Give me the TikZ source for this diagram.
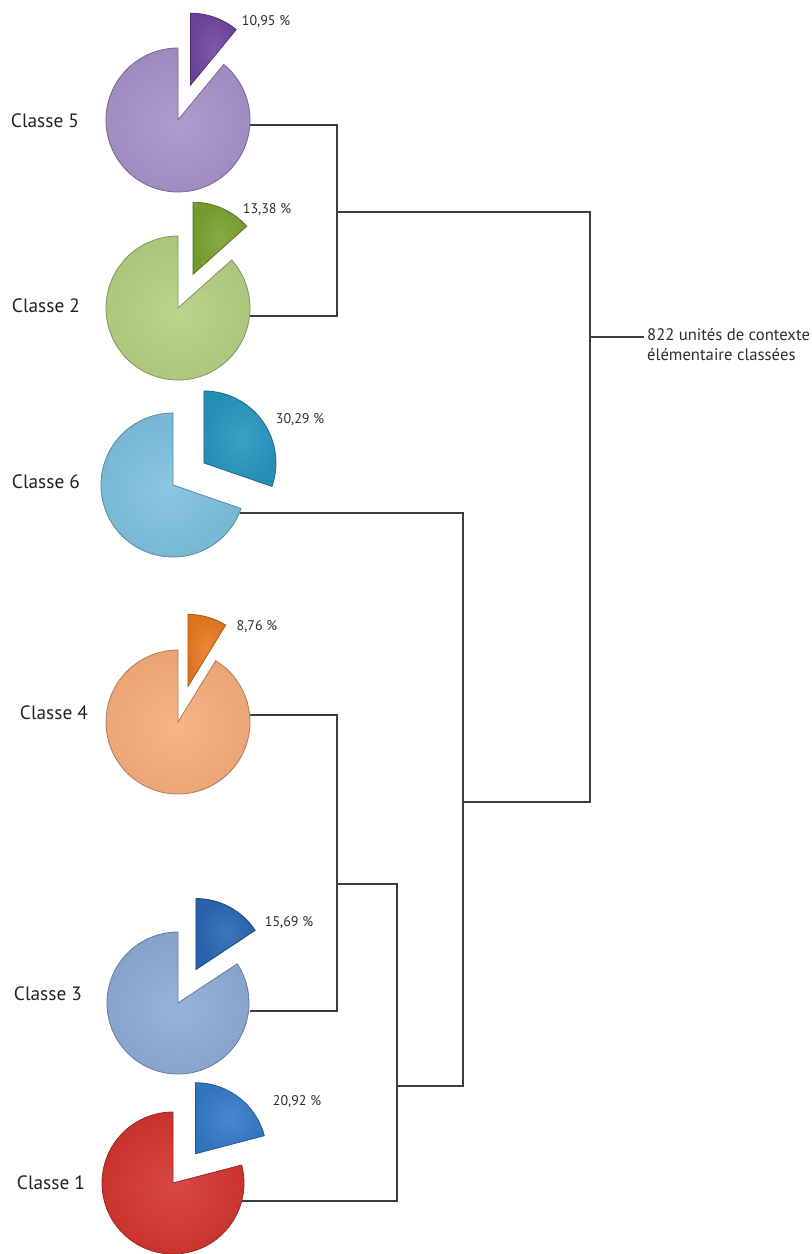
\documentclass[tikz,border=0pt]{standalone}
\usepackage{fontspec}
\setmainfont{PT Sans}

\definecolor{c5main}{RGB}{166,145,200}
\definecolor{c5cut}{RGB}{112,70,160}
\definecolor{c2main}{RGB}{178,208,128}
\definecolor{c2cut}{RGB}{122,162,48}
\definecolor{c6main}{RGB}{124,192,222}
\definecolor{c6cut}{RGB}{38,150,190}
\definecolor{c4main}{RGB}{246,172,122}
\definecolor{c4cut}{RGB}{232,122,32}
\definecolor{c3main}{RGB}{140,170,215}
\definecolor{c3cut}{RGB}{40,102,178}
\definecolor{c1main}{RGB}{212,52,46}
\definecolor{c1cut}{RGB}{52,122,200}

\tikzset{every picture/.style={line width=0.75pt}}
\tikzset{
	sector/.style={draw=#1!72!black, line width=0.6pt, inner color=#1!90!white, outer color=#1!95!black},
	link/.style={draw={rgb, 255:red, 62; green, 62; blue, 62 }, line width=0.9pt},
	classlab/.style={font=\fontsize{14.5}{17}\selectfont, text={rgb, 255:red, 35; green, 35; blue, 35 }},
	pctlab/.style={font=\fontsize{10.5}{12}\selectfont, text={rgb, 255:red, 45; green, 45; blue, 45 }},
	rootlab/.style={font=\fontsize{12.5}{15}\selectfont, align=left, anchor=west, inner sep=2pt, text={rgb, 255:red, 45; green, 45; blue, 45 }}}

\begin{document}
\begin{tikzpicture}[x=0.75pt,y=0.75pt,yscale=-1,xscale=1]
	\useasboundingbox (0,0) rectangle (812,1254);

	% Text Node
	\node [rootlab] (lroot) at (644,345) {822 unités de contexte\\élémentaire classées};

	% Connector ends
	\coordinate (p5) at (250,125);
	\coordinate (p2) at (250,316);
	\coordinate (p6) at (240,513);
	\coordinate (p4) at (250,715);
	\coordinate (p3) at (250,1011);
	\coordinate (p1) at (242,1201);
	\coordinate (k52) at (337,212);
	\coordinate (k43) at (337,884);
	\coordinate (k431) at (397,1086);
	\coordinate (k6) at (463,802);
	\coordinate (root) at (590,337);

	% Connectors
	\draw [link] (p5) -| (k52) |- (p2);
	\draw [link] (p4) -| (k43) |- (p3);
	\draw [link] (k43) -| (k431) |- (p1);
	\draw [link] (p6) -| (k6) |- (k431);
	\draw [link] (k52) -| (root) |- (k6);
	\draw [link] (root) -- (root -| lroot.west);

	%Shape: Sector (Classe 5)
	\draw [sector=c5main] (178,120) -- ++(-50.58:72) arc [start angle=-50.58, end angle=270, radius=72] -- cycle;
	\draw [sector=c5cut, shift={(-70.29:37)}] (178,120) -- ++(-90:72) arc [start angle=-90, end angle=-50.58, radius=72] -- cycle;
	%Shape: Sector (Classe 2)
	\draw [sector=c2main] (178,308) -- ++(-41.83:72) arc [start angle=-41.83, end angle=270, radius=72] -- cycle;
	\draw [sector=c2cut, shift={(-65.91:37)}] (178,308) -- ++(-90:72) arc [start angle=-90, end angle=-41.83, radius=72] -- cycle;
	%Shape: Sector (Classe 6)
	\draw [sector=c6main] (173,485) -- ++(19.04:72) arc [start angle=19.04, end angle=270, radius=72] -- cycle;
	\draw [sector=c6cut, shift={(-35.48:38)}] (173,485) -- ++(-90:72) arc [start angle=-90, end angle=19.04, radius=72] -- cycle;
	%Shape: Sector (Classe 4)
	\draw [sector=c4main] (178,722) -- ++(-58.46:72) arc [start angle=-58.46, end angle=270, radius=72] -- cycle;
	\draw [sector=c4cut, shift={(-74.23:37)}] (178,722) -- ++(-90:72) arc [start angle=-90, end angle=-58.46, radius=72] -- cycle;
	%Shape: Sector (Classe 3)
	\draw [sector=c3main] (178,1003) -- ++(-33.52:71) arc [start angle=-33.52, end angle=270, radius=71] -- cycle;
	\draw [sector=c3cut, shift={(-61.76:38)}] (178,1003) -- ++(-90:71) arc [start angle=-90, end angle=-33.52, radius=71] -- cycle;
	%Shape: Sector (Classe 1)
	\draw [sector=c1main] (173,1183) -- ++(-14.69:71) arc [start angle=-14.69, end angle=270, radius=71] -- cycle;
	\draw [sector=c1cut, shift={(-52.34:37)}] (173,1183) -- ++(-90:71) arc [start angle=-90, end angle=-14.69, radius=71] -- cycle;

	% Text Node
	\node [classlab] (l5) at (45,121) {Classe 5};
	% Text Node
	\node [classlab] (l2) at (46,306) {Classe 2};
	% Text Node
	\node [classlab] (l6) at (46,482) {Classe 6};
	% Text Node
	\node [classlab] (l4) at (54,713) {Classe 4};
	% Text Node
	\node [classlab] (l3) at (48,994) {Classe 3};
	% Text Node
	\node [classlab] (l1) at (51,1183) {Classe 1};

	% Text Node
	\node [pctlab] (v5) at (266,22) {10,95 \%};
	% Text Node
	\node [pctlab] (v2) at (267,210) {13,38 \%};
	% Text Node
	\node [pctlab] (v6) at (300,420) {30,29 \%};
	% Text Node
	\node [pctlab] (v4) at (257,627) {8,76 \%};
	% Text Node
	\node [pctlab] (v3) at (289,923) {15,69 \%};
	% Text Node
	\node [pctlab] (v1) at (297,1102) {20,92 \%};

\end{tikzpicture}
\end{document}
